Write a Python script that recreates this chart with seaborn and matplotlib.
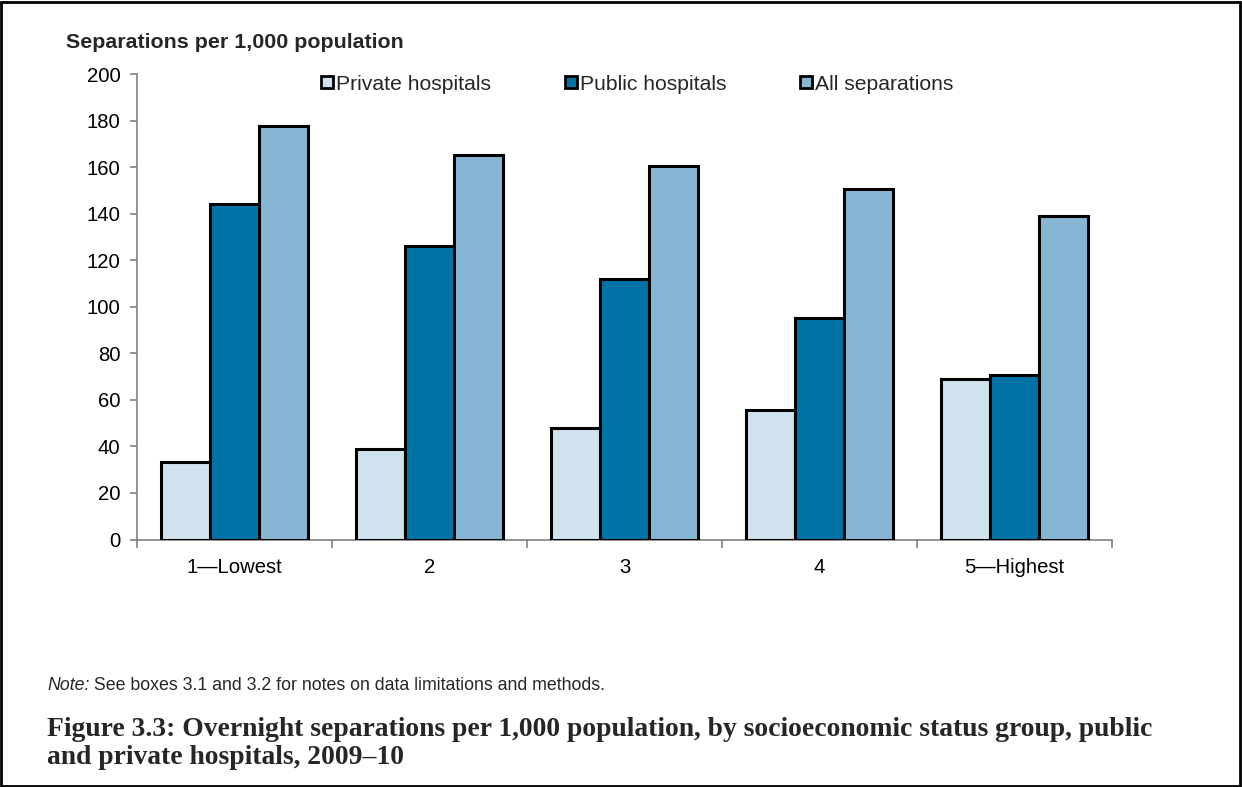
import matplotlib
matplotlib.use("Agg")
import matplotlib.pyplot as plt
import matplotlib.patches as mpatches
import seaborn as sns
import pandas as pd

# Socioeconomic status groups and overnight separations per 1,000 population
groups = ["1\u2014Lowest", "2", "3", "4", "5\u2014Highest"]
series = ["Private hospitals", "Public hospitals", "All separations"]
private_vals = [33.5, 39, 48, 55.5, 69]
public_vals = [144, 126, 112, 95, 70.5]
all_vals = [177.5, 165, 160.5, 150.5, 139]
y_ticks = [0, 20, 40, 60, 80, 100, 120, 140, 160, 180, 200]
colors = ["#CFE2EE", "#0073A6", "#87B6D4"]

df = pd.DataFrame({
    "group": groups * 3,
    "series": [series[0]] * 5 + [series[1]] * 5 + [series[2]] * 5,
    "value": private_vals + public_vals + all_vals,
})

sns.set_theme(style="white")
plt.rcParams["font.family"] = ["Liberation Sans", "DejaVu Sans"]

W, H = 1242, 787
fig = plt.figure(figsize=(W / 100, H / 100), dpi=100)
ax = fig.add_axes([137 / W, 1 - 539.5 / H, (1112 - 137) / W, (539.5 - 74) / H])

sns.barplot(data=df, x="group", y="value", hue="series", order=groups,
            hue_order=series, palette=colors, width=0.755, saturation=1,
            edgecolor="black", linewidth=2.2, legend=False, ax=ax)

ax.set_xlim(-0.5, 4.5)
ax.set_ylim(0, 200)
ax.set_yticks(y_ticks)
ax.set_xlabel("")
ax.set_ylabel("")

for side in ["top", "right"]:
    ax.spines[side].set_visible(False)
for side in ["left", "bottom"]:
    ax.spines[side].set_color("#808080")
    ax.spines[side].set_linewidth(1.2)
    ax.spines[side].set_zorder(0)

ax.tick_params(axis="y", which="major", direction="out", length=5, width=1.2,
               color="#808080", labelsize=14.6, pad=7, left=True, labelcolor="black")
ax.tick_params(axis="x", which="major", length=0, labelsize=14.6, pad=13,
               labelcolor="black")
ax.set_xticks([i - 0.5 for i in range(len(groups) + 1)], minor=True)
ax.tick_params(axis="x", which="minor", direction="out", length=6, width=1.2,
               color="#808080", bottom=True)

# Axis title above the value axis
fig.text(66 / W, 1 - 42 / H, "Separations per 1,000 population",
         fontsize=15.4, fontweight="bold", ha="left", va="center")

# Legend row
handles = [mpatches.Patch(facecolor=c, edgecolor="black", linewidth=2) for c in colors]
fig.legend(handles, series, loc="center left",
           bbox_to_anchor=(321 / W, 1 - 84 / H), bbox_transform=fig.transFigure,
           ncol=3, frameon=False, fontsize=15.2, handlelength=0.56, handleheight=0.56,
           handletextpad=0.15, columnspacing=3.5, borderpad=0, borderaxespad=0)

# Note line: italic lead-in followed by plain text
note_y = 1 - 685 / H
t1 = fig.text(47 / W, note_y, "Note:", fontsize=12.8, style="italic",
              ha="left", va="center")
fig.canvas.draw()
bb = t1.get_window_extent()
fig.text(bb.x1 / W, note_y, " See boxes 3.1 and 3.2 for notes on data limitations and methods.",
         fontsize=12.8, ha="left", va="center")

# Figure caption
cap_font = ["Liberation Serif", "DejaVu Serif"]
fig.text(47 / W, 1 - 729 / H,
         "Figure 3.3: Overnight separations per 1,000 population, by socioeconomic status group, public",
         fontsize=19.9, fontweight="bold", family=cap_font, ha="left", va="center")
fig.text(47 / W, 1 - 758 / H, "and private hospitals, 2009\u201310",
         fontsize=19.9, fontweight="bold", family=cap_font, ha="left", va="center")

# Frame around the whole figure
fig.patches.append(mpatches.Rectangle((1 / W, 1 / H), (W - 3) / W, (H - 3) / H,
                                      transform=fig.transFigure, fill=False,
                                      edgecolor="black", linewidth=2))

fig.savefig("out.png", dpi=100)
